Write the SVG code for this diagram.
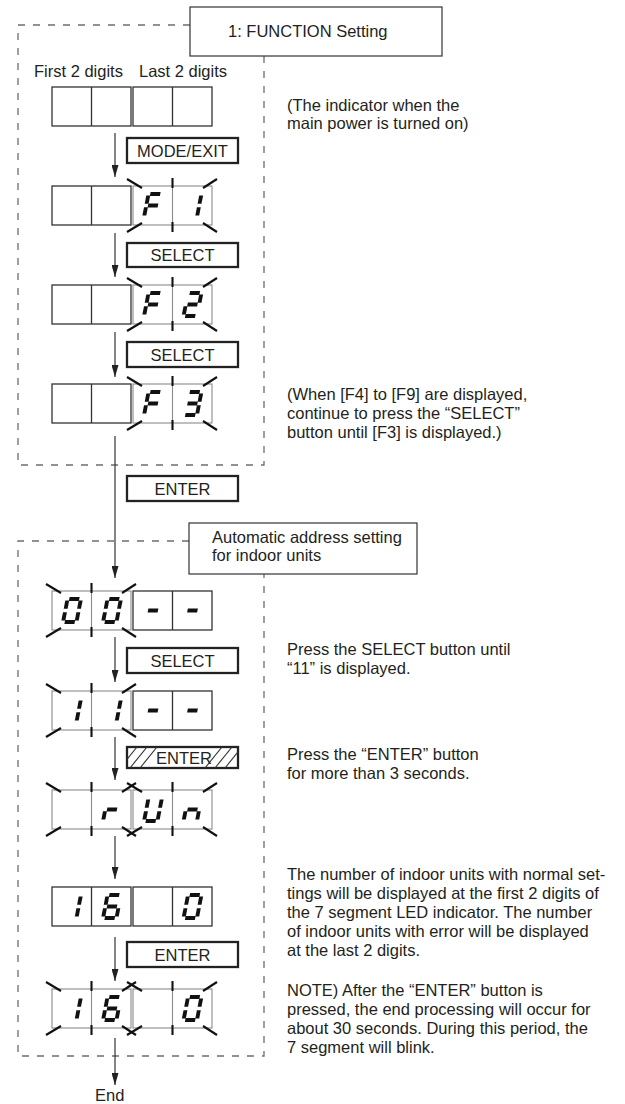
<svg xmlns="http://www.w3.org/2000/svg" xmlns:xlink="http://www.w3.org/1999/xlink" width="625" height="1104" viewBox="0 0 625 1104">
<style>
text{font-family:"Liberation Sans",Arial,sans-serif;font-size:16.5px;fill:#231f20}
.c{text-anchor:middle}
.seg{stroke:#111;stroke-width:3.9;fill:none}
.frame{fill:none;stroke:#6d6d6d;stroke-width:1.3;stroke-dasharray:7 8}
.box{fill:#fff;stroke:#333;stroke-width:1.2}
.btn{fill:#fff;stroke:#222;stroke-width:2.3}
.cellN{fill:none;stroke:#333;stroke-width:1.3}
.cellB{fill:none;stroke:#8a8a8a;stroke-width:1.1}
.tick{stroke:#111;stroke-width:2.1;fill:none}
.conn{stroke:#333;stroke-width:1.2;fill:none}
.hatch{stroke:#333;stroke-width:1.1}
</style>
<defs>
<marker id="arr" markerWidth="12" markerHeight="7" refX="12" refY="3.5" orient="auto" markerUnits="userSpaceOnUse" viewBox="0 0 12 7">
<path d="M0,0 L12,3.5 L0,7 z" fill="#222"/>
</marker>
<g id="pairN"><rect class="cellN" x="0" y="0" width="79" height="39"/><line class="cellN" x1="39.5" y1="0" x2="39.5" y2="39"/></g>
<g id="pairB"><rect class="cellB" x="0" y="0" width="79" height="39"/><line class="cellB" x1="39.5" y1="0" x2="39.5" y2="39"/>
<line class="tick" x1="39.5" y1="-8" x2="39.5" y2="2"/><line class="tick" x1="39.5" y1="36" x2="39.5" y2="46"/>
<line class="tick" x1="9" y1="2" x2="-6" y2="-7"/><line class="tick" x1="70" y1="2" x2="84" y2="-7"/>
<line class="tick" x1="9" y1="37" x2="-6" y2="46"/><line class="tick" x1="70" y1="37" x2="84" y2="46"/></g>
<g id="sa"><line class="seg" x1="-5" y1="-11.5" x2="5" y2="-11.5"/></g>
<g id="sb"><line class="seg" x1="6.7" y1="-10" x2="6.7" y2="-1.8"/></g>
<g id="sc"><line class="seg" x1="6.7" y1="1.8" x2="6.7" y2="10"/></g>
<g id="sd"><line class="seg" x1="-5" y1="11.5" x2="5" y2="11.5"/></g>
<g id="se"><line class="seg" x1="-6.7" y1="1.8" x2="-6.7" y2="10"/></g>
<g id="sf"><line class="seg" x1="-6.7" y1="-10" x2="-6.7" y2="-1.8"/></g>
<g id="sg"><line class="seg" x1="-5" y1="0" x2="5" y2="0"/></g>
<g id="dF" transform="skewX(-11)"><use href="#sa"/><use href="#sf"/><use href="#sg"/><use href="#se"/></g>
<g id="d1" transform="skewX(-11)"><use href="#sb"/><use href="#sc"/></g>
<g id="d2" transform="skewX(-11)"><use href="#sa"/><use href="#sb"/><use href="#sg"/><use href="#se"/><use href="#sd"/></g>
<g id="d3" transform="skewX(-11)"><use href="#sa"/><use href="#sb"/><use href="#sg"/><use href="#sc"/><use href="#sd"/></g>
<g id="d0" transform="skewX(-11)"><use href="#sa"/><use href="#sb"/><use href="#sc"/><use href="#sd"/><use href="#se"/><use href="#sf"/></g>
<g id="d6" transform="skewX(-11)"><use href="#sa"/><use href="#sf"/><use href="#sg"/><use href="#se"/><use href="#sd"/><use href="#sc"/></g>
<g id="dr" transform="skewX(-11)"><use href="#sg"/><use href="#se"/></g>
<g id="dU" transform="skewX(-11)"><use href="#sb"/><use href="#sc"/><use href="#sd"/><use href="#se"/><use href="#sf"/></g>
<g id="dn" transform="skewX(-11)"><use href="#sg"/><use href="#se"/><use href="#sc"/></g>
<g id="dm" transform="skewX(-11)"><use href="#sg"/></g>
<clipPath id="hclip"><rect x="127" y="747" width="111" height="21"/></clipPath>
</defs>

<g id="frames">
<path class="frame" d="M190,25 H18 V465 H264 V56"/>
<path class="frame" d="M189,541 H18 V1056 H264 V574"/>
</g>

<g id="title-function">
<rect class="box" x="190" y="7" width="252" height="49"/>
<text x="228" y="37">1: FUNCTION Setting</text>
</g>

<g id="labels">
<text x="34" y="77">First 2 digits</text>
<text x="139" y="77">Last 2 digits</text>
</g>

<g id="connectors">
<line class="conn" x1="115" y1="133" x2="115" y2="177" marker-end="url(#arr)"/>
<line class="conn" x1="115" y1="233" x2="115" y2="277" marker-end="url(#arr)"/>
<line class="conn" x1="115" y1="332" x2="115" y2="377" marker-end="url(#arr)"/>
<line class="conn" x1="115" y1="436" x2="115" y2="578" marker-end="url(#arr)"/>
<line class="conn" x1="115" y1="637" x2="115" y2="682" marker-end="url(#arr)"/>
<line class="conn" x1="115" y1="737" x2="115" y2="780" marker-end="url(#arr)"/>
<line class="conn" x1="115" y1="836" x2="115" y2="879" marker-end="url(#arr)"/>
<line class="conn" x1="115" y1="937" x2="115" y2="981" marker-end="url(#arr)"/>
<line class="conn" x1="115" y1="1038" x2="115" y2="1085" marker-end="url(#arr)"/>
</g>

<g id="display-initial">
<use href="#pairN" x="52" y="87"/><use href="#pairN" x="133" y="87"/>
</g>
<g id="btn-mode-exit">
<rect class="btn" x="127" y="138" width="111" height="25"/>
<text class="c" x="182.5" y="157">MODE/EXIT</text>
</g>
<g id="display-f1">
<use href="#pairN" x="52" y="186"/><use href="#pairB" x="133" y="186"/>
<use href="#dF" x="153" y="205.5"/><use href="#d1" x="192.5" y="205.5"/>
</g>
<g id="btn-select-1">
<rect class="btn" x="127" y="243" width="111" height="24"/>
<text class="c" x="182.5" y="261">SELECT</text>
</g>
<g id="display-f2">
<use href="#pairN" x="52" y="285"/><use href="#pairB" x="133" y="285"/>
<use href="#dF" x="153" y="304.5"/><use href="#d2" x="192.5" y="304.5"/>
</g>
<g id="btn-select-2">
<rect class="btn" x="127" y="342" width="111" height="25"/>
<text class="c" x="182.5" y="361">SELECT</text>
</g>
<g id="display-f3">
<use href="#pairN" x="52" y="384"/><use href="#pairB" x="133" y="384"/>
<use href="#dF" x="153" y="403.5"/><use href="#d3" x="192.5" y="403.5"/>
</g>
<g id="note-power">
<text x="287" y="111">(The indicator when the</text>
<text x="287" y="129">main power is turned on)</text>
</g>
<g id="note-f3">
<text x="287" y="400">(When [F4] to [F9] are displayed,</text>
<text x="287" y="419">continue to press the “SELECT”</text>
<text x="287" y="438">button until [F3] is displayed.)</text>
</g>

<g id="btn-enter-1">
<rect class="btn" x="127" y="476" width="111" height="25"/>
<text class="c" x="182.5" y="495">ENTER</text>
</g>

<g id="title-auto">
<rect class="box" x="189" y="523" width="228" height="51"/>
<text x="212" y="543">Automatic address setting</text>
<text x="212" y="561">for indoor units</text>
</g>

<g id="display-00">
<use href="#pairB" x="52" y="591"/><use href="#pairN" x="133" y="591"/>
<use href="#d0" x="72" y="610.5"/><use href="#d0" x="112" y="610.5"/>
<use href="#dm" x="153" y="610.5"/><use href="#dm" x="192.5" y="610.5"/>
</g>
<g id="btn-select-3">
<rect class="btn" x="127" y="648" width="111" height="25"/>
<text class="c" x="182.5" y="667">SELECT</text>
</g>
<g id="display-11">
<use href="#pairB" x="52" y="691"/><use href="#pairN" x="133" y="691"/>
<use href="#d1" x="72" y="710.5"/><use href="#d1" x="112" y="710.5"/>
<use href="#dm" x="153" y="710.5"/><use href="#dm" x="192.5" y="710.5"/>
</g>
<g id="note-select">
<text x="287" y="655">Press the SELECT button until</text>
<text x="287" y="674">“11” is displayed.</text>
</g>
<g id="btn-enter-hold">
<rect class="btn" x="127" y="747" width="111" height="21"/>
<g clip-path="url(#hclip)">
<line class="hatch" x1="120" y1="768" x2="137" y2="747"/>
<line class="hatch" x1="130" y1="768" x2="147" y2="747"/>
<line class="hatch" x1="140" y1="768" x2="157" y2="747"/>
<line class="hatch" x1="205" y1="768" x2="222" y2="747"/>
<line class="hatch" x1="215" y1="768" x2="232" y2="747"/>
<line class="hatch" x1="225" y1="768" x2="242" y2="747"/>
</g>
<text class="c" x="184" y="764">ENTER</text>
</g>
<g id="note-enter">
<text x="287" y="760">Press the “ENTER” button</text>
<text x="287" y="779">for more than 3 seconds.</text>
</g>
<g id="display-run">
<use href="#pairB" x="52" y="790"/><use href="#pairB" x="133" y="790"/>
<use href="#dr" x="112" y="809.5"/><use href="#dU" x="153" y="809.5"/><use href="#dn" x="192.5" y="809.5"/>
</g>
<g id="display-16-0">
<use href="#pairN" x="52" y="887"/><use href="#pairN" x="133" y="887"/>
<use href="#d1" x="72" y="906.5"/><use href="#d6" x="112" y="906.5"/><use href="#d0" x="192.5" y="906.5"/>
</g>
<g id="note-result">
<text x="287" y="880">The number of indoor units with normal set-</text>
<text x="287" y="899">tings will be displayed at the first 2 digits of</text>
<text x="287" y="918">the 7 segment LED indicator. The number</text>
<text x="287" y="937">of indoor units with error will be displayed</text>
<text x="287" y="956">at the last 2 digits.</text>
</g>
<g id="btn-enter-2">
<rect class="btn" x="127" y="942" width="111" height="25"/>
<text class="c" x="182.5" y="961">ENTER</text>
</g>
<g id="display-16-0-blink">
<use href="#pairB" x="52" y="989"/><use href="#pairB" x="133" y="989"/>
<use href="#d1" x="72" y="1008.5"/><use href="#d6" x="112" y="1008.5"/><use href="#d0" x="192.5" y="1008.5"/>
</g>
<g id="note-end">
<text x="287" y="996">NOTE) After the “ENTER” button is</text>
<text x="287" y="1015">pressed, the end processing will occur for</text>
<text x="287" y="1034">about 30 seconds. During this period, the</text>
<text x="287" y="1053">7 segment will blink.</text>
</g>
<g id="end">
<text x="95" y="1101">End</text>
</g>
</svg>
